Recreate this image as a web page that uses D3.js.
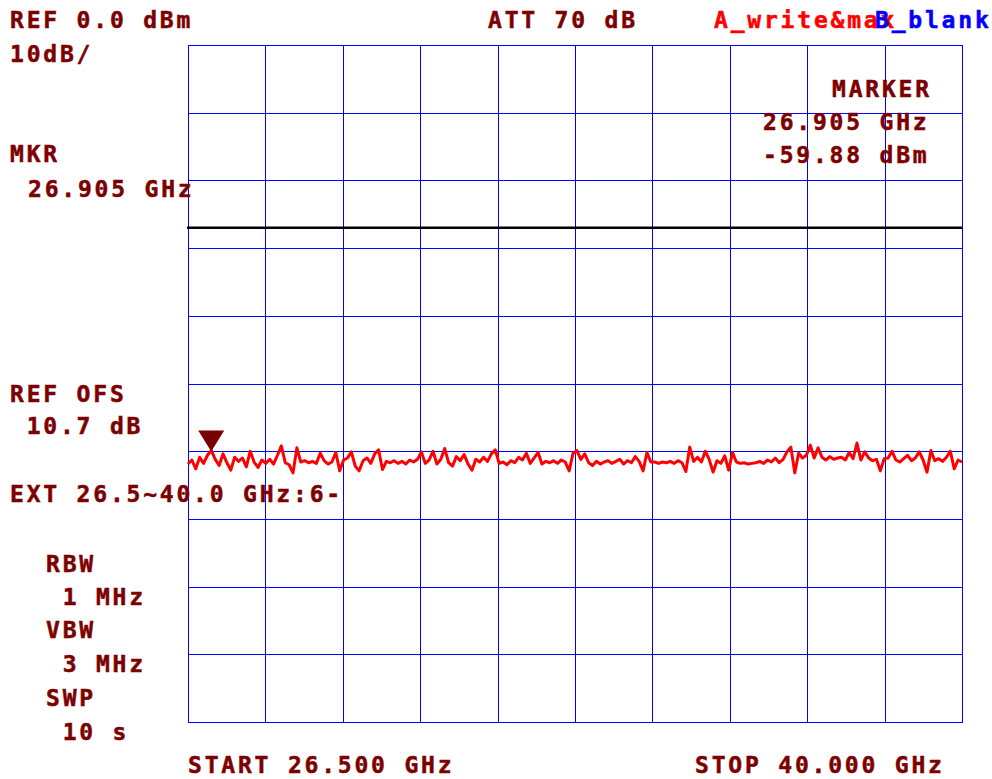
<!DOCTYPE html>
<html>
<head>
<meta charset="utf-8">
<script src="https://cdn.jsdelivr.net/npm/d3@7"></script>
<style>
  body { margin: 0; background: #fff; }
  svg text { font-family: "DejaVu Sans Mono", monospace; font-weight: bold; font-size: 23px; letter-spacing: 2.8px; stroke-width: 0.5px; }
</style>
</head>
<body>
<script>
// sweep settings
let startGHz = 26.5;
let stopGHz = 40.0;
let refLevel = 0;      // dBm, top of screen
let dbPerDiv = 10;
let divisions = 10;
let displayLine = -27; // dBm
let markerGHz = 26.905;
let markerDbm = -59.88;

// trace A (max hold), 200 points across the sweep, dBm
let traceA = [
  -61.9, -61.3, -62.6, -60.9, -61.8, -60.6, -59.88, -61.2, -62.1, -60.4, -61.7, -62.8, -60.9, -61.5, -61.0, -62.3, -60.0, -61.6, -62.4, -61.3,
  -61.8, -61.2, -61.9, -60.6, -59.2, -61.7, -62.0, -63.2, -59.5, -61.6, -61.4, -61.7, -61.5, -61.8, -60.3, -61.4, -61.9, -61.6, -60.2, -62.9,
  -61.3, -61.0, -60.1, -62.2, -62.9, -61.4, -61.0, -61.8, -60.4, -59.8, -62.7, -61.5, -61.7, -61.4, -61.8, -61.5, -61.9, -61.3, -61.6, -61.2,
  -60.1, -61.8, -61.3, -60.0, -61.9, -61.2, -59.6, -61.7, -62.2, -60.8, -61.4, -60.5, -61.9, -62.8, -61.2, -61.6, -60.9, -61.5, -60.4, -59.8,
  -61.8, -61.6, -62.0, -61.4, -61.7, -60.9, -61.3, -60.3, -61.8, -61.0, -60.2, -61.9, -61.5, -61.7, -61.4, -61.8, -61.3, -61.6, -62.9, -60.3,
  -59.9, -61.2, -60.4, -61.7, -62.1, -61.5, -61.9, -61.6, -61.4, -61.8, -61.5, -61.2, -61.9, -61.4, -61.7, -60.8, -61.5, -62.9, -60.2, -61.6,
  -61.6, -61.8, -61.6, -61.7, -61.5, -61.8, -61.4, -61.7, -63.0, -59.4, -61.5, -60.9, -61.6, -60.0, -61.2, -63.1, -61.4, -61.8, -60.7, -62.8,
  -60.2, -61.6, -61.8, -61.7, -61.9, -61.8, -61.7, -61.5, -61.8, -61.3, -61.6, -61.0, -61.7, -61.2, -60.1, -59.4, -63.2, -60.3, -61.0, -60.6,
  -59.1, -61.0, -59.5, -60.9, -61.3, -60.8, -61.2, -61.0, -60.9, -61.3, -60.2, -61.1, -58.8, -61.3, -60.1, -61.0, -61.4, -61.2, -62.9, -61.1,
  -61.0, -60.0, -61.3, -61.6, -61.1, -60.6, -61.4, -61.0, -60.1, -61.3, -63.1, -59.9, -61.4, -61.1, -61.5, -60.9, -60.0, -62.6, -61.3, -61.6
];

// annotation texts
let topLabels = ["REF 0.0 dBm", "10dB/", "ATT 70 dB"];
let traceLabels = ["A_write&max", "B_blank"];
let markerLabels = ["MKR", "26.905 GHz", "MARKER", "26.905 GHz", "-59.88 dBm"];
let sideLabels = ["REF OFS", " 10.7 dB", "EXT 26.5~40.0 GHz:6-", "RBW", " 1 MHz", "VBW", " 3 MHz", "SWP", " 10 s"];
let freqLabels = ["START 26.500 GHz", "STOP 40.000 GHz"];

let width = 992;
let height = 779;
let plotLeft = 188, plotRight = 962, plotTop = 45, plotBottom = 722;
let textColor = "#7d0000";

let x = d3.scaleLinear().domain([startGHz, stopGHz]).range([plotLeft, plotRight]);
let y = d3.scaleLinear().domain([refLevel, refLevel - dbPerDiv * divisions]).range([plotTop, plotBottom]);

let svg = d3.select("body").append("svg").attr("width", width).attr("height", height);

// graticule
let gx = d3.range(divisions + 1).map(i => startGHz + i * (stopGHz - startGHz) / divisions);
let gy = d3.range(divisions + 1).map(i => refLevel - i * dbPerDiv);
let grid = svg.append("g").attr("stroke", "#0000ff").attr("stroke-width", 1);
grid.selectAll("line.v").data(gx).enter().append("line").attr("class", "v")
  .attr("x1", d => Math.round(x(d)) + 0.5).attr("x2", d => Math.round(x(d)) + 0.5)
  .attr("y1", plotTop).attr("y2", plotBottom + 0.5);
grid.selectAll("line.h").data(gy).enter().append("line").attr("class", "h")
  .attr("x1", plotLeft).attr("x2", plotRight + 1)
  .attr("y1", d => Math.round(y(d)) + 0.5).attr("y2", d => Math.round(y(d)) + 0.5);

// display line
svg.append("line")
  .attr("x1", plotLeft - 1).attr("x2", plotRight).attr("y1", y(displayLine)).attr("y2", y(displayLine))
  .attr("stroke", "#000").attr("stroke-width", 2.6);

// trace
let step = (stopGHz - startGHz) / (traceA.length - 1);
let line = d3.line().x((d, i) => x(startGHz + i * step)).y(d => y(d));
svg.append("path").datum(traceA).attr("d", line)
  .attr("fill", "none").attr("stroke", "#ff0000").attr("stroke-width", 3).attr("stroke-linejoin", "round");

// marker
let mx = x(markerGHz), my = y(markerDbm);
svg.append("path")
  .attr("d", `M${mx},${my + 1} L${mx - 13},${my - 20} L${mx + 13},${my - 20} Z`)
  .attr("fill", "#780000");

// texts
function label(t, px, py, color) {
  svg.append("text").attr("x", px).attr("y", py)
    .attr("fill", color || textColor).attr("stroke", color || textColor)
    .attr("xml:space", "preserve").style("white-space", "pre").text(t);
}
label(topLabels[0], 10, 28);
label(topLabels[1], 10, 62);
label(topLabels[2], 488, 28);
label(traceLabels[0], 714, 28, "#ff0000");
label(traceLabels[1], 875, 28, "#0000ff");
label(markerLabels[0], 10, 162);
label(markerLabels[1], 28, 197);
label(markerLabels[2], 832, 97);
label(markerLabels[3], 763, 130);
label(markerLabels[4], 763, 163);
let sideY = [402, 434, 502, 572, 605, 638, 672, 706, 740];
let sideX = [10, 10, 10, 46, 46, 46, 46, 46, 46];
sideLabels.forEach((t, i) => label(t, sideX[i], sideY[i]));
label(freqLabels[0], 188, 773);
label(freqLabels[1], 695, 773);
</script>
</body>
</html>
